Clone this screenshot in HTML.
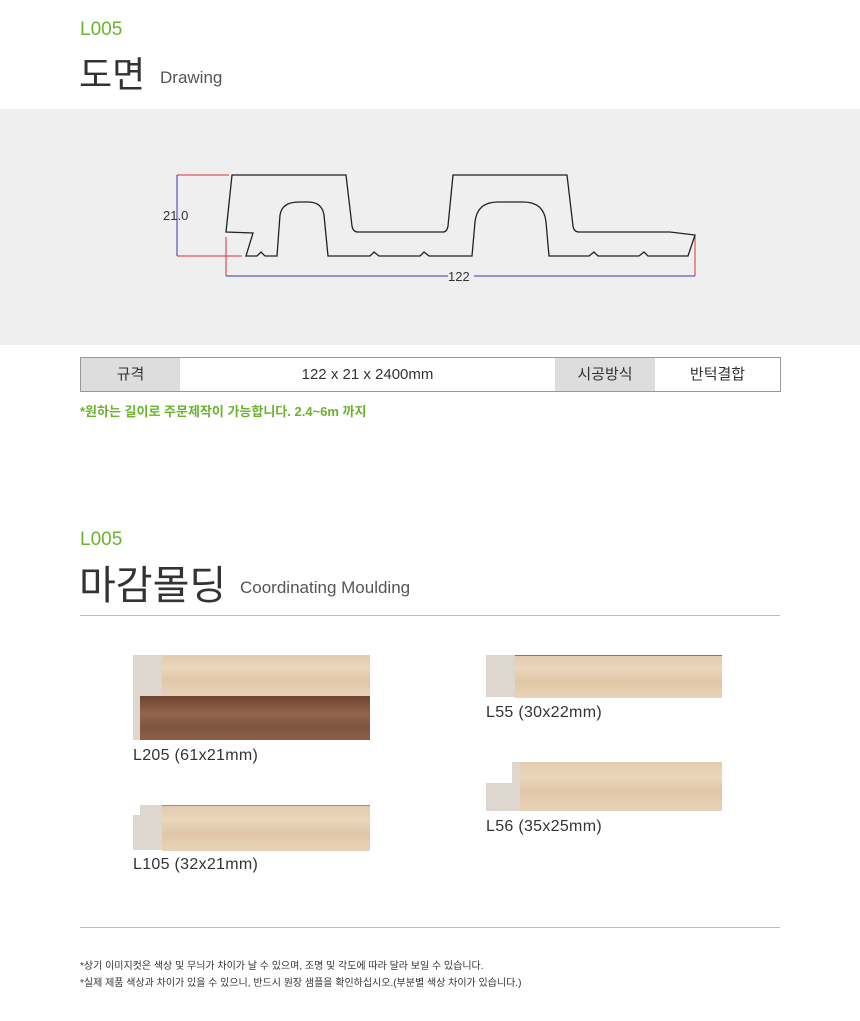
<!DOCTYPE html>
<html><head><meta charset="utf-8"><style>
body{margin:0;width:860px;height:1021px;background:#fff;position:relative;overflow:hidden;font-family:"Liberation Sans","Noto Sans CJK KR",sans-serif;color:#333}
.a{position:absolute;white-space:nowrap}
.g{color:#6ab42d}
.wood{background:linear-gradient(180deg,#e3cbae,#ead6bc 30%,#e0c7a8 60%,#e8d3b8);}
.cap{background:#ddd7cf}
.lbl{font-size:16px;color:#333;letter-spacing:.3px}
</style></head><body>
<div class="a g" style="left:80px;top:19px;font-size:19px">L005</div>
<div class="a" style="left:79px;top:46px;font-size:36px;color:#333">도면</div>
<div class="a" style="left:160px;top:68px;font-size:17px;color:#555">Drawing</div>
<div class="a" style="left:0;top:109px;width:860px;height:236px;background:#efefef"></div>
<svg class="a" style="left:0;top:0" width="860" height="345">
<g fill="none" stroke-width="1">
<path d="M177 175H229M177 256H242" stroke="#d33"/>
<path d="M177 175V256" stroke="#33b"/>
<path d="M226 237V276M695 236V276" stroke="#d33"/>
<path d="M226 276H448M474 276H695" stroke="#33b"/>
<path stroke="#222" stroke-width="1.3" d="M226 232L232 175H346L352 226Q353 232 358 232H443Q447 232 448 226L453 175H567L573 226Q574 232 579 232H670L695 235L688 256H648L644 252L639 256H598L594 252L589 256H549L546 222Q544 202 523 202H498Q477 202 475 222L472 256H429L424 252L420 256H379L374 252L370 256H328L324 215Q322 202 308 202H299Q282 202 280 215L277 256H265L261 252L257 256H246L253 233Z"/>
</g>
<text x="163" y="220" font-size="13" fill="#333" font-family="Liberation Sans,sans-serif">21.0</text>
<text x="448" y="281" font-size="13" fill="#333" font-family="Liberation Sans,sans-serif">122</text>
</svg>
<div class="a" style="left:80px;top:357px;width:699px;height:33px;border:1px solid #999;background:#fff"></div>
<div class="a" style="left:81px;top:358px;width:99px;height:33px;background:#ddd;font-size:15px;text-align:center;line-height:33px">규격</div>
<div class="a" style="left:180px;top:358px;width:375px;height:33px;font-size:15px;text-align:center;line-height:33px">122 x 21 x 2400mm</div>
<div class="a" style="left:555px;top:358px;width:100px;height:33px;background:#ddd;font-size:15px;text-align:center;line-height:33px">시공방식</div>
<div class="a" style="left:655px;top:358px;width:125px;height:33px;font-size:15px;text-align:center;line-height:33px">반턱결합</div>
<div class="a g" style="left:80px;top:401px;font-size:13px;font-weight:bold">*원하는 길이로 주문제작이 가능합니다. 2.4~6m 까지</div>

<div class="a g" style="left:80px;top:529px;font-size:19px">L005</div>
<div class="a" style="left:79px;top:553px;font-size:40px">마감몰딩</div>
<div class="a" style="left:240px;top:578px;font-size:17px;color:#555">Coordinating Moulding</div>
<div class="a" style="left:80px;top:615px;width:700px;height:1px;background:#bbb"></div>

<div class="a cap" style="left:133px;top:655px;width:30px;height:85px"></div>
<div class="a wood" style="left:162px;top:655px;width:208px;height:41px"></div>
<div class="a" style="left:140px;top:696px;width:230px;height:44px;background:linear-gradient(180deg,#6e4530,#93644a 40%,#7f5540 70%,#8d5f45)"></div>
<div class="a lbl" style="left:133px;top:747px">L205 (61x21mm)</div>

<div class="a cap" style="left:133px;top:805px;width:30px;height:45px"></div>
<div class="a" style="left:133px;top:803px;width:7px;height:12px;background:#fff"></div>
<div class="a wood" style="left:162px;top:805px;width:208px;height:45px;border-top:1px solid #a88"></div>
<div class="a lbl" style="left:133px;top:856px">L105 (32x21mm)</div>

<div class="a cap" style="left:486px;top:655px;width:30px;height:42px"></div>
<div class="a wood" style="left:515px;top:655px;width:207px;height:42px;border-top:1px solid #876"></div>
<div class="a lbl" style="left:486px;top:704px">L55 (30x22mm)</div>

<div class="a cap" style="left:486px;top:783px;width:34px;height:28px"></div>
<div class="a cap" style="left:512px;top:762px;width:8px;height:22px"></div>
<div class="a wood" style="left:520px;top:762px;width:202px;height:49px"></div>
<div class="a lbl" style="left:486px;top:818px">L56 (35x25mm)</div>

<div class="a" style="left:80px;top:927px;width:700px;height:1px;background:#bbb"></div>
<div class="a" style="left:80px;top:957px;font-size:10px;color:#333">*상기 이미지컷은 색상 및 무늬가 차이가 날 수 있으며, 조명 및 각도에 따라 달라 보일 수 있습니다.</div>
<div class="a" style="left:80px;top:974px;font-size:10px;color:#333">*실제 제품 색상과 차이가 있을 수 있으니, 반드시 원장 샘플을 확인하십시오.(부분별 색상 차이가 있습니다.)</div>
</body></html>
